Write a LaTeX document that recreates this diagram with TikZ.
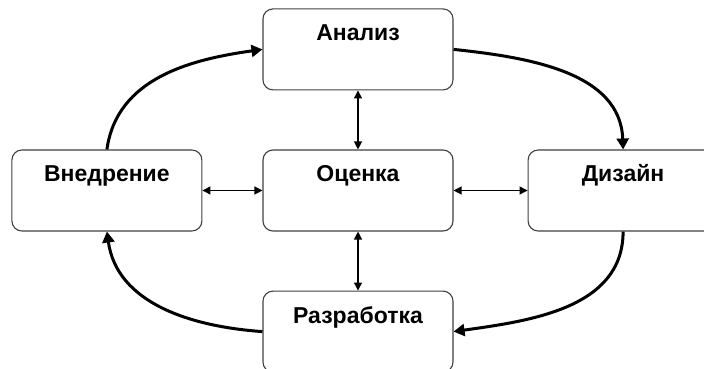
\documentclass[tikz,border=0pt]{standalone}
\usepackage{fontspec}
\setmainfont{Liberation Sans}
\usetikzlibrary{positioning,arrows.meta}

\begin{document}
\begin{tikzpicture}[
    stage/.style={draw=black!75, line width=1.1pt, rounded corners=10pt, fill=white,
      minimum width=190pt, inner sep=0pt, text height=32pt, text depth=49pt,
      font=\fontsize{23pt}{27pt}\selectfont\bfseries},
    cycle/.style={line width=3pt, -{Triangle[length=11pt,width=12pt]}},
    link/.style={line width=1.2pt, {Triangle[length=8pt,width=8pt]}-{Triangle[length=8pt,width=8pt]}}]
  \useasboundingbox (0,0) rectangle (704pt,369pt);
  % Stages
  \node[stage] (ocenka) at (358pt,178.5pt) {Оценка};
  \node[stage, above=59pt of ocenka] (analiz) {Анализ};
  \node[stage, below=59pt of ocenka] (razrab) {Разработка};
  \node[stage, left=60pt of ocenka] (vnedr) {Внедрение};
  \node[stage, right=74pt of ocenka] (dizain) {Дизайн};
  % Outer cycle
  \draw[cycle] (vnedr.north) to[out=82, in=188] (analiz.west);
  \draw[cycle] (analiz.east) to[out=-6, in=92] (dizain.north);
  \draw[cycle] (dizain.south) to[out=-90, in=8] (razrab.east);
  \draw[cycle] (razrab.west) to[out=176, in=-82] (vnedr.south);
  % Links to the evaluation
  \draw[link] (analiz) -- (ocenka);
  \draw[link] (razrab) -- (ocenka);
  \draw[link] (vnedr) -- (ocenka);
  \draw[link] (dizain) -- (ocenka);
\end{tikzpicture}
\end{document}
